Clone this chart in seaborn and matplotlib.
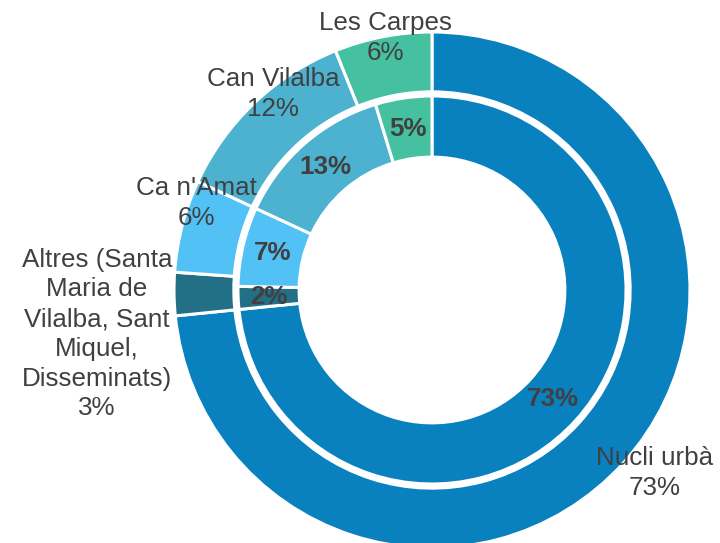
import textwrap
import numpy as np
import matplotlib
matplotlib.use("Agg")
import matplotlib.pyplot as plt
import seaborn as sns

# ---- data ----
categories = ["Nucli urbà",
              "Altres (Santa Maria de Vilalba, Sant Miquel, Disseminats)",
              "Ca n'Amat", "Can Vilalba", "Les Carpes"]
outer_values = [73.4, 2.7, 5.8, 12.0, 6.1]
inner_values = [73.4, 1.9, 6.6, 13.4, 4.7]
outer_labels = ["73%", "3%", "6%", "12%", "6%"]
inner_labels = ["73%", "2%", "7%", "13%", "5%"]

# ---- style ----
colors = sns.color_palette(["#0981BE", "#226F86", "#52C2F6", "#4CB2D0", "#45C1A1"])
sns.set_theme(style="white")
plt.rcParams["font.family"] = ["Liberation Sans", "DejaVu Sans"]
text_color = "#404040"

W, H = 720, 543
CX, CY, R = 432, 290, 258  # pixel centre and outer radius

fig = plt.figure(figsize=(W / 100, H / 100), dpi=100)
ax = fig.add_axes([0, 0, 1, 1])

edge = dict(edgecolor="white", linewidth=2.2)
ax.pie(outer_values, colors=colors, radius=1.0, startangle=90, counterclock=False,
       wedgeprops=dict(width=0.232, **edge))
inner_r = 0.752
wedges, _ = ax.pie(inner_values, colors=colors, radius=inner_r, startangle=90,
                   counterclock=False, wedgeprops=dict(width=0.237, **edge))

for w, lab in zip(wedges, inner_labels):
    ang = np.deg2rad((w.theta1 + w.theta2) / 2)
    rr = 0.632
    ax.text(rr * np.cos(ang), rr * np.sin(ang), lab, ha="center", va="center",
            fontsize=18.7, fontweight="bold", color=text_color)

# outer label anchors (pixel centres)
label_px = [(655, 473), (97, 334), (196, 203), (273, 94), (385, 38)]
for name, pct, (px, py) in zip(categories, outer_labels, label_px):
    txt = textwrap.fill(name, 13) + "\n" + pct
    ax.text((px - CX) / R, (CY - py) / R, txt, ha="center", va="center",
            fontsize=18.7, color=text_color, linespacing=1.3)

ax.set_xlim(-CX / R, (W - CX) / R)
ax.set_ylim(-(H - CY) / R, CY / R)
ax.set_aspect("auto")
ax.axis("off")

fig.savefig("out.png", dpi=100)
